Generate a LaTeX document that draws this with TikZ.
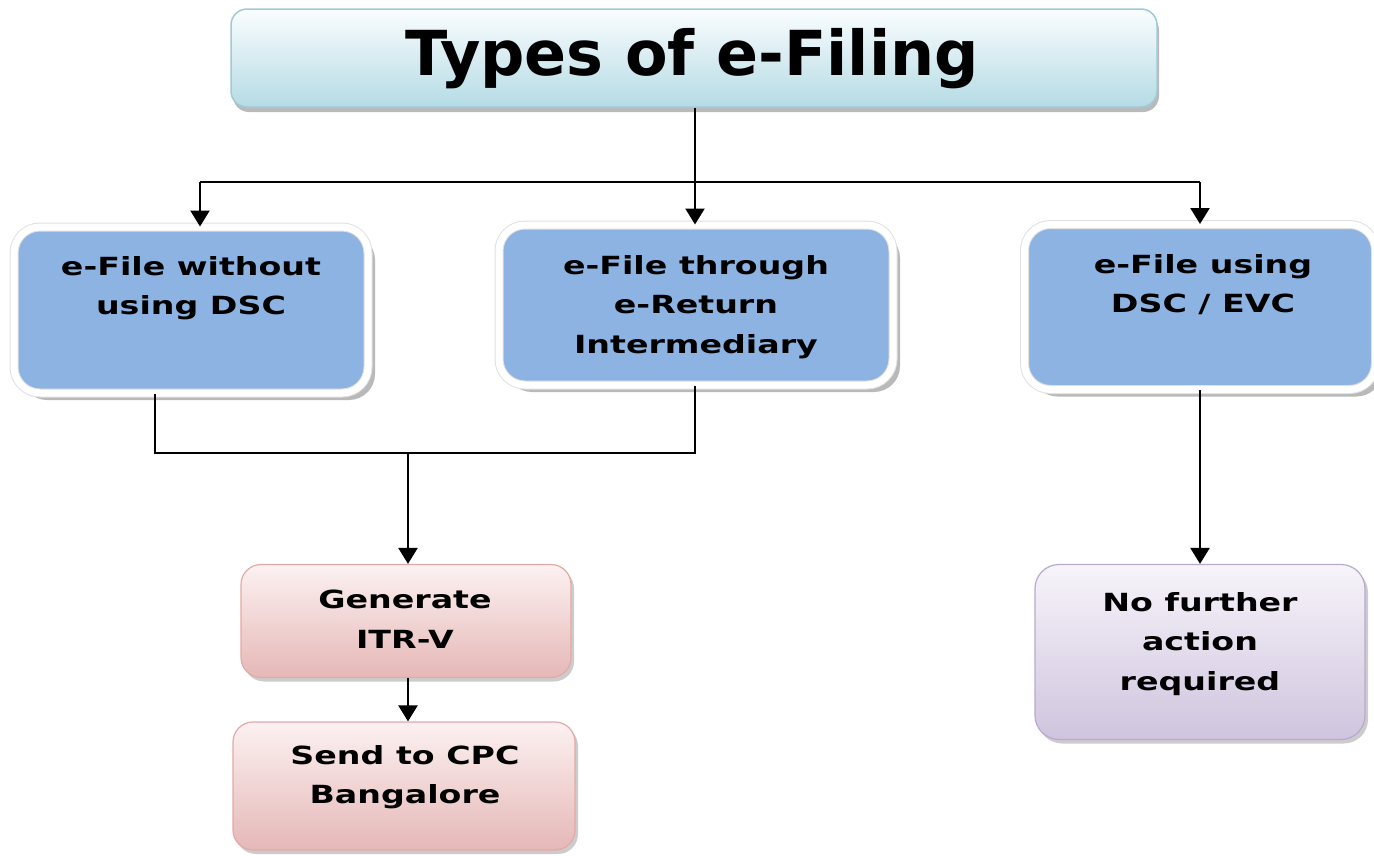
\documentclass[tikz,border=0pt]{standalone}
\usepackage{fontspec}
\setmainfont{DejaVu Sans}
\newfontfamily\boxfont[FakeStretch=1.33]{DejaVu Sans}
\usetikzlibrary{arrows.meta,shadows,calc}
\definecolor{bluefill}{HTML}{8DB3E2}
\definecolor{titletop}{HTML}{FAFDFE}
\definecolor{titlebot}{HTML}{B5DBE5}
\definecolor{titleline}{HTML}{9FCAD6}
\definecolor{pinktop}{HTML}{FCF1F1}
\definecolor{pinkbot}{HTML}{E5B8B7}
\definecolor{pinkline}{HTML}{E3A9A8}
\definecolor{purptop}{HTML}{F7F4FA}
\definecolor{purpbot}{HTML}{CFC4DE}
\definecolor{purpline}{HTML}{B9AACD}
\tikzset{
  titlebox/.style={rectangle, rounded corners=16pt, shading=axis, top color=titletop, bottom color=titlebot, draw=titleline, line width=1.5pt,
    drop shadow={shadow xshift=2pt, shadow yshift=-5pt, fill=black!45, opacity=0.6}},
  bluebox/.style={rectangle, rounded corners=26pt, fill=bluefill, draw=black!12, double=white, double distance=7pt, line width=1pt,
    drop shadow={shadow xshift=7pt, shadow yshift=-7pt, fill=black!50, opacity=0.55}},
  pinkbox/.style={rectangle, rounded corners=20pt, shading=axis, top color=pinktop, bottom color=pinkbot, draw=pinkline, line width=1.2pt,
    drop shadow={shadow xshift=3pt, shadow yshift=-4pt, fill=black!40, opacity=0.5}},
  purpbox/.style={rectangle, rounded corners=24pt, shading=axis, top color=purptop, bottom color=purpbot, draw=purpline, line width=1.2pt,
    drop shadow={shadow xshift=3pt, shadow yshift=-4pt, fill=black!40, opacity=0.5}},
  boxtext/.style={anchor=north, inner sep=0pt, align=center, font=\boxfont\bfseries\fontsize{25}{39.5}\selectfont, text=black},
  conn/.style={line width=2.4pt, black},
  arr/.style={conn, -{Triangle[width=19pt,length=16pt]}}
}
\begin{document}
\begin{tikzpicture}[x=1pt,y=-1pt]
\useasboundingbox (0,0) rectangle (1374,855);
% boxes
\node[titlebox, minimum width=926pt, minimum height=98pt] (title) at (694,58) {};
\node[bluebox, minimum width=354pt, minimum height=166pt] (b1) at (191,310) {};
\node[bluebox, minimum width=394pt, minimum height=160pt] (b2) at (696,305) {};
\node[bluebox, minimum width=351pt, minimum height=165pt] (b3) at (1200,307) {};
\node[pinkbox, minimum width=330pt, minimum height=113pt] (p1) at (406,621) {};
\node[pinkbox, minimum width=342pt, minimum height=128pt] (p2) at (404,786) {};
\node[purpbox, minimum width=330pt, minimum height=175pt] (v) at (1200,652) {};
% texts
\node[anchor=north, inner sep=0pt, font=\bfseries\fontsize{62}{62}\selectfont] (ttl) at (692,28) {Types of e-Filing};
\node[boxtext] (t1) at (191,256) {e-File without\\using DSC};
\node[boxtext] (t2) at (696,255) {e-File through\\e-Return\\Intermediary};
\node[boxtext] (t3) at (1203,254) {e-File using\\DSC / EVC};
\node[boxtext] (tp1) at (405,590) {Generate\\ITR-V};
\node[boxtext] (tp2) at (405,745) {Send to CPC\\Bangalore};
\node[boxtext] (tv) at (1200,592) {No further\\action\\required};
% connectors
\coordinate (jc) at (695,182);
\coordinate (jl) at (200,182);
\coordinate (jr) at (1200,182);
\coordinate (jn) at (408,453);
\coordinate (b1s) at (155,453);
\draw[conn] (title.south -| jc) -- (jc);
\draw[conn] (jl) -- (jr);
\draw[arr] (jl) -- (jl |- b1.north);
\draw[arr] (jc) -- (jc |- b2.north);
\draw[arr] (jr) -- (jr |- b3.north);
\draw[conn] (b1s |- b1.south) -- (b1s) -- (jn) -| (jc |- b2.south);
\draw[arr] (jn) -- (jn |- p1.north);
\draw[arr] (jn |- p1.south) -- (jn |- p2.north);
\draw[arr] (b3.south) -- (v.north);
\end{tikzpicture}
\end{document}
